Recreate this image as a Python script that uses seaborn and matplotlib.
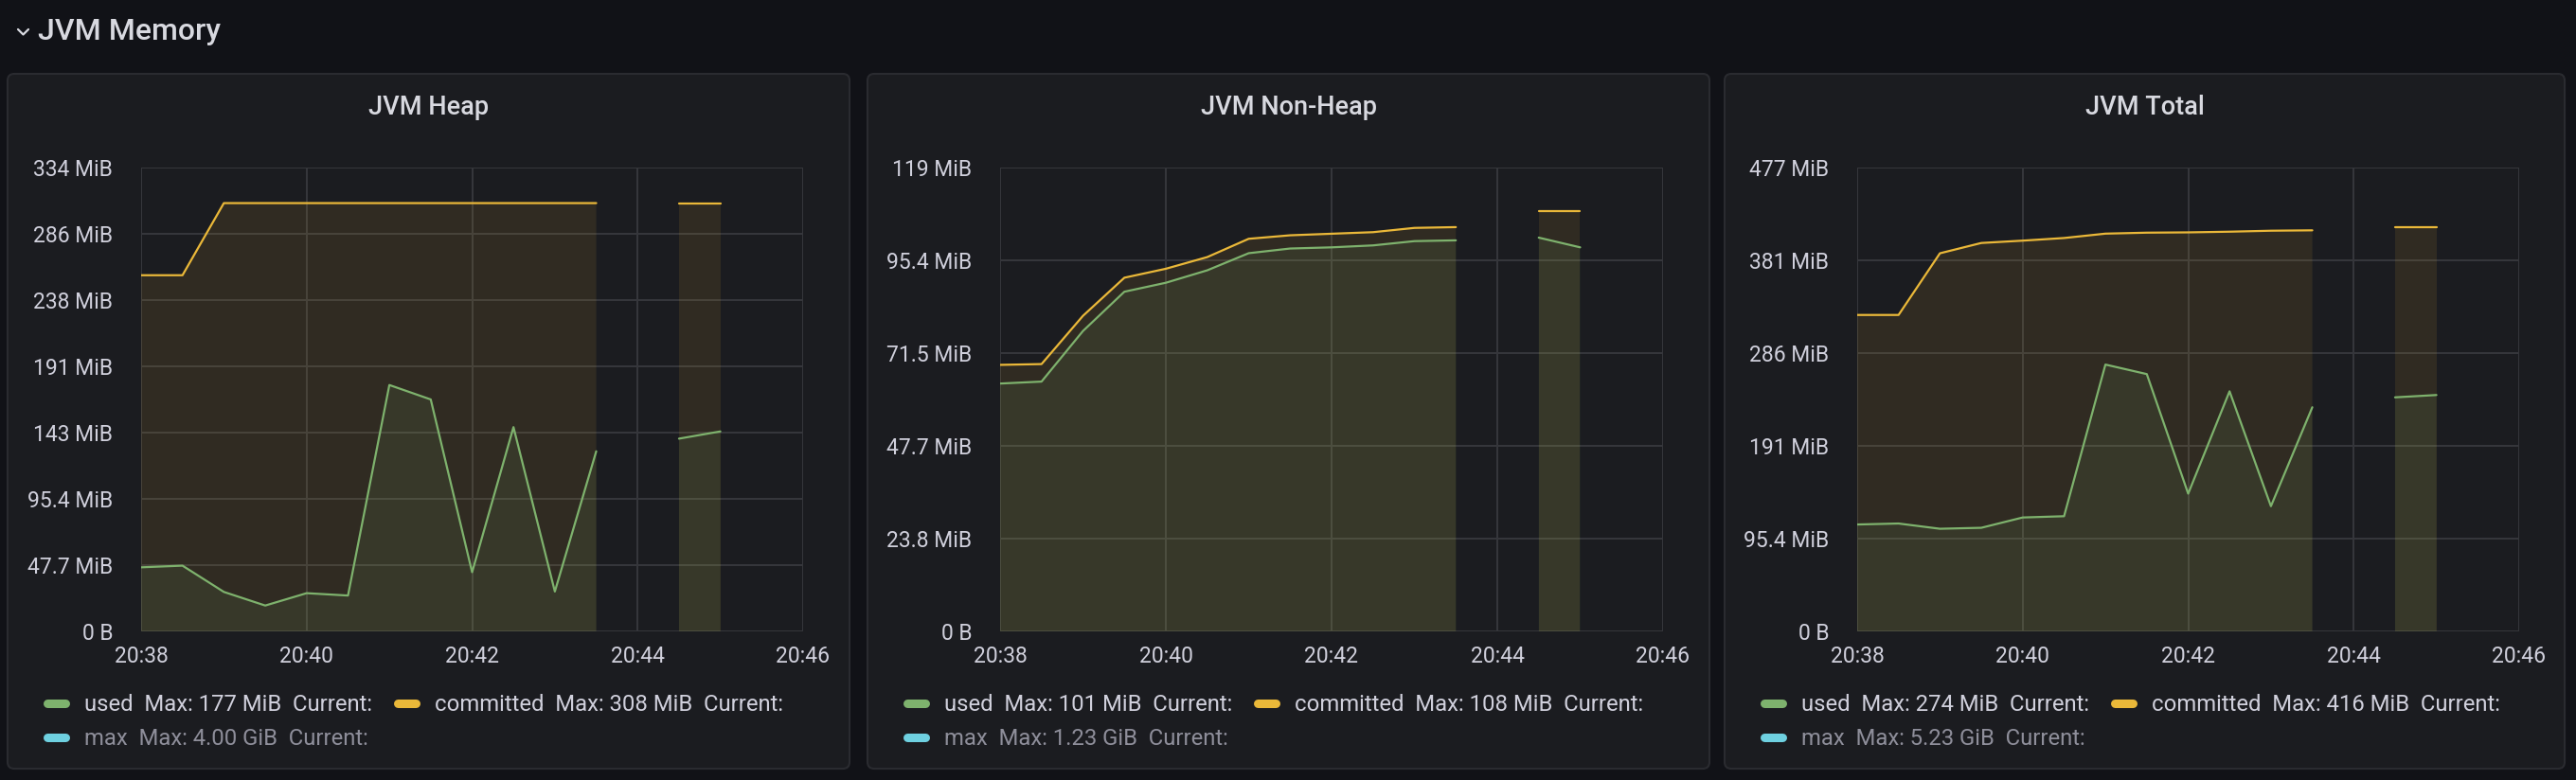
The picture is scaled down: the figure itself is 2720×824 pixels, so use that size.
import pandas as pd
import numpy as np
import matplotlib.pyplot as plt
import matplotlib.dates as mdates
from matplotlib.patches import FancyBboxPatch
from matplotlib.lines import Line2D
import seaborn as sns

"""Grafana風 JVM Memory パネル（Heap / Non-Heap / Total）を seaborn で再現"""

# 時刻（30秒間隔、20:44:00 は欠測）
times = ["20:38:00", "20:38:30", "20:39:00", "20:39:30", "20:40:00", "20:40:30",
         "20:41:00", "20:41:30", "20:42:00", "20:42:30", "20:43:00", "20:43:30",
         "20:44:00", "20:44:30", "20:45:00"]

# 値は MiB
heap_used = [46.1, 47.3, 28.4, 18.6, 27.5, 25.8, 177.3, 166.9, 42.6, 147.0, 28.7, 129.6,
             None, 138.7, 143.9]
heap_committed = [256.3, 256.3, 308.2, 308.2, 308.2, 308.2, 308.2, 308.2, 308.2, 308.2,
                  308.2, 308.2, None, 308.2, 308.2]

nonheap_used = [63.7, 64.2, 77.2, 87.3, 89.6, 92.8, 97.2, 98.4, 98.7, 99.2, 100.3, 100.5,
                None, 101.2, 98.7]
nonheap_committed = [68.5, 68.7, 81.1, 90.9, 93.2, 96.2, 100.9, 101.8, 102.2, 102.6, 103.7,
                     103.9, None, 108.1, 108.1]

total_used = [109.9, 110.9, 105.5, 106.5, 117.1, 118.4, 274.3, 264.5, 141.6, 246.8, 128.7,
              230.4, None, 240.6, 243.0]
total_committed = [325.3, 325.3, 388.7, 399.3, 401.7, 404.4, 408.9, 409.9, 410.2, 410.9,
                   411.9, 412.3, None, 416.0, 416.0]

panel_titles = ["JVM Heap", "JVM Non-Heap", "JVM Total"]

# y軸目盛り（バイト単位の刻み → MiB 表示）
tick_step_bytes = [50e6, 25e6, 100e6]
tick_labels = [
    ["0 B", "47.7 MiB", "95.4 MiB", "143 MiB", "191 MiB", "238 MiB", "286 MiB", "334 MiB"],
    ["0 B", "23.8 MiB", "47.7 MiB", "71.5 MiB", "95.4 MiB", "119 MiB"],
    ["0 B", "95.4 MiB", "191 MiB", "286 MiB", "381 MiB", "477 MiB"],
]
x_ticks = ["20:38", "20:40", "20:42", "20:44", "20:46"]

legend_used = ["used  Max: 177 MiB  Current:", "used  Max: 101 MiB  Current:",
               "used  Max: 274 MiB  Current:"]
legend_committed = ["committed  Max: 308 MiB  Current:", "committed  Max: 108 MiB  Current:",
                    "committed  Max: 416 MiB  Current:"]
legend_max = ["max  Max: 4.00 GiB  Current:", "max  Max: 1.23 GiB  Current:",
              "max  Max: 5.23 GiB  Current:"]

series = [(heap_used, heap_committed), (nonheap_used, nonheap_committed),
          (total_used, total_committed)]

# 色
PAGE_BG = "#111217"
PANEL_BG = "#1b1c20"
PANEL_EDGE = "#2a2b30"
GRID = "#36373c"
TEXT = "#d0d0dc"
TEXT_DIM = "#8e8e9a"
GREEN = "#7eb26d"
YELLOW = "#eab839"
CYAN = "#6ed0e0"
palette = {"used": GREEN, "committed": YELLOW}

sns.set_theme(style="dark")
plt.rcParams["font.family"] = ["Roboto", "DejaVu Sans"]

W, H = 2720, 824
fig = plt.figure(figsize=(W / 100, H / 100), dpi=100, facecolor=PAGE_BG)

# 背景（ピクセル座標）
bg = fig.add_axes([0, 0, 1, 1], zorder=0)
bg.set_xlim(0, W)
bg.set_ylim(H, 0)
bg.axis("off")

panels = [(8, 897), (916, 1805), (1821, 2708)]
plots = [(149, 848), (1056, 1756), (1961, 2660)]
p_top, p_bot = 78, 812
a_top, a_bot = 177, 667

bg.text(40, 33, "JVM Memory", color="#d8d9e0", fontsize=23, fontweight="medium",
        va="center", ha="left")
bg.plot([19, 24.5, 30], [31, 36.5, 31], color="#d8d9e0", lw=1.6, solid_capstyle="round")

t = pd.to_datetime("2024-01-01 " + pd.Series(times))
x0 = pd.Timestamp("2024-01-01 20:38")
x1 = pd.Timestamp("2024-01-01 20:46")

for i in range(3):
    pl, pr = panels[i]
    bg.add_patch(FancyBboxPatch((pl, p_top), pr - pl, p_bot - p_top,
                                boxstyle="round,pad=0,rounding_size=7",
                                fc=PANEL_BG, ec=PANEL_EDGE, lw=1.5))
    bg.text((pl + pr) / 2, 113, panel_titles[i], color="#d8d9e0", fontsize=19.5,
            fontweight="medium", ha="center", va="center")

    al, ar = plots[i]
    ax = fig.add_axes([al / W, 1 - a_bot / H, (ar - al) / W, (a_bot - a_top) / H], zorder=1)
    ax.set_facecolor("none")

    used, committed = series[i]
    df = pd.DataFrame({"time": t, "used": pd.to_numeric(pd.Series(used)),
                       "committed": pd.to_numeric(pd.Series(committed))})
    df["seg"] = df["used"].isna().cumsum()
    long = df.melt(id_vars=["time", "seg"], value_vars=["committed", "used"],
                   var_name="series", value_name="value").dropna()

    # 塗り（committed → used の順に重ねる）
    ax.fill_between(df["time"], 0, df["committed"], color=YELLOW, alpha=0.1, lw=0)
    ax.fill_between(df["time"], 0, df["used"], color=GREEN, alpha=0.1, lw=0)

    sns.lineplot(data=long, x="time", y="value", hue="series", units="seg",
                 estimator=None, palette=palette, legend=False, lw=1.6, ax=ax)

    step = tick_step_bytes[i] / 2**20
    yt = [k * step for k in range(len(tick_labels[i]))]
    ax.set_ylim(0, yt[-1])
    ax.set_yticks(yt)
    ax.set_yticklabels(tick_labels[i])
    ax.set_xlim(x0, x1)
    ax.set_xticks(pd.date_range(x0, x1, freq="2min"))
    ax.set_xticklabels(x_ticks)
    ax.set_xlabel("")
    ax.set_ylabel("")

    ax.grid(True, color=GRID, lw=1.4)
    ax.set_axisbelow(True)
    for s in ax.spines.values():
        s.set_visible(False)
    ax.tick_params(axis="y", length=11.5, width=1.4, color=GRID, pad=10,
                   labelsize=16.5, labelcolor=TEXT)
    ax.tick_params(axis="x", length=0, pad=11, labelsize=16.5, labelcolor=TEXT)

    # 凡例（列方向に並ぶので used, max, committed の順）
    handles = [Line2D([], [], color=GREEN, lw=6.5, solid_capstyle="round"),
               Line2D([], [], color=CYAN, lw=6.5, solid_capstyle="round"),
               Line2D([], [], color=YELLOW, lw=6.5, solid_capstyle="round")]
    labels = [legend_used[i], legend_max[i], legend_committed[i]]
    leg = ax.legend(handles, labels, loc="upper left", ncol=2, frameon=False,
                    bbox_to_anchor=(pl + 42, 733), bbox_transform=bg.transData,
                    fontsize=17.2, borderpad=0, borderaxespad=0, handlelength=0.8,
                    handletextpad=0.85, columnspacing=1.1, labelspacing=0.55)
    for txt, c in zip(leg.get_texts(), [TEXT, TEXT_DIM, TEXT]):
        txt.set_color(c)

fig.savefig("out.png", dpi=100, facecolor=PAGE_BG)
